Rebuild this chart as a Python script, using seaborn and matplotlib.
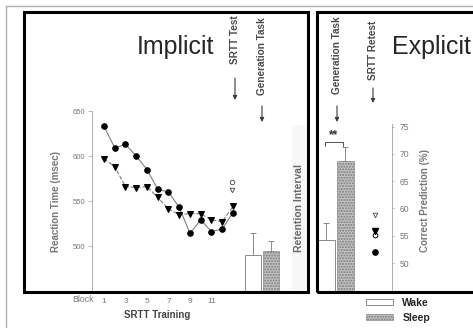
import matplotlib
matplotlib.use("Agg")
import matplotlib.pyplot as plt
import seaborn as sns
from matplotlib.patches import Rectangle
from matplotlib.lines import Line2D

W, H = 473, 328

# SRTT training blocks (13 = SRTT test after training)
blocks = list(range(1, 14))
rt_circles = [633, 609, 613, 600, 585, 563, 560, 543, 514, 529, 516, 519, 537]
rt_triangles = [597, 588, 566, 565, 566, 554, 541, 535, 536, 536, 529, 527, 544]
rt_open_circle = 571
rt_open_triangle = 562

# generation task bars (left panel, drawn on the RT scale)
conditions = ["Wake", "Sleep"]
gen_rt = [490, 494]
gen_rt_err = [24, 12]

# explicit panel
pred_pct = [54.2, 68.7]
pred_err = [3.1, 2.6]
retest_open_triangle = 58.8
retest_filled_triangle = 55.9
retest_open_circle = 55.2
retest_filled_circle = 52.0

block_ticks = [1, 3, 5, 7, 9, 11]
rt_ticks = [500, 550, 600, 650]
pct_ticks = [50, 55, 60, 65, 70, 75]

sns.set_style("white")
plt.rcParams['font.family'] = ['Liberation Sans', 'DejaVu Sans']

fig = plt.figure(figsize=(W / 100, H / 100), dpi=100)
fig.patch.set_facecolor('white')


def fx(x):
    return x / W


def fy(y):
    return 1 - y / H


def rect(x0, y0, x1, y1):
    return [fx(x0), fy(y1), (x1 - x0) / W, (y1 - y0) / H]


grey_txt = '#777777'
dark_txt = '#3a3a3a'
wake_style = dict(facecolor='white', edgecolor='#777777', linewidth=0.6)
sleep_style = dict(facecolor='#c4c4c4', edgecolor='#7a7a7a', linewidth=0.4, hatch='......')

# ---- left (implicit) panel ----
ax = fig.add_axes(rect(92, 12, 308, 292))
ax.set_facecolor('none')
ax.set_xlim(-0.116, 19.98)
ax.set_ylim(448.9, 760)

sns.lineplot(x=blocks, y=rt_circles, ax=ax, color='#808080', linewidth=0.8,
             marker='o', markersize=4.0, markerfacecolor='black',
             markeredgecolor='black')
sns.lineplot(x=blocks, y=rt_triangles, ax=ax, color='#808080', linewidth=0.8,
             linestyle='--', marker='v', markersize=4.0,
             markerfacecolor='black', markeredgecolor='black')
ax.plot([12.9], [rt_open_circle], marker='o', markersize=3.3, mfc='white',
        mec='#444444', mew=0.6, linestyle='none')
ax.plot([12.9], [rt_open_triangle], marker='v', markersize=3.3, mfc='white',
        mec='#444444', mew=0.6, linestyle='none')

bx = [14.9, 16.5]
ax.bar(bx[0], gen_rt[0], width=1.5, **wake_style)
ax.bar(bx[1], gen_rt[1], width=1.5, **sleep_style)
ax.errorbar(bx, gen_rt, yerr=[[0, 0], gen_rt_err], fmt='none',
            ecolor='#8a8a8a', elinewidth=0.7, capsize=2.2, capthick=0.7)

for side in ['top', 'right', 'bottom']:
    ax.spines[side].set_visible(False)
ax.spines['left'].set_color('#a0a0a0')
ax.spines['left'].set_linewidth(0.6)
ax.spines['left'].set_bounds(448.9, 650)
ax.set_yticks(rt_ticks)
ax.set_xticks(block_ticks)
ax.tick_params(axis='y', length=3, width=0.5, color='#a0a0a0', pad=2,
               labelsize=5.5, labelcolor=grey_txt, left=True)
ax.tick_params(axis='x', length=0, pad=4.5, labelsize=6, labelcolor=grey_txt)
ax.set_ylabel('Reaction Time (msec)', fontsize=7, fontweight='bold', color=grey_txt)
ax.yaxis.set_label_coords((61 - 92) / 216, (292 - 202) / 280)

# ---- right (explicit) panel ----
ax2 = fig.add_axes(rect(317, 12, 473, 292))
ax2.set_facecolor('none')
ax2.set_xlim(-0.484, 7.64)
ax2.set_ylim(44.69, 95.97)

wake_bar = ax2.bar(0, pred_pct[0], width=0.92, label=conditions[0], **wake_style)
sleep_bar = ax2.bar(1, pred_pct[1], width=0.92, label=conditions[1], **sleep_style)
ax2.errorbar([0, 1], pred_pct, yerr=[[0, 0], pred_err], fmt='none',
             ecolor='#8a8a8a', elinewidth=0.7, capsize=2.2, capthick=0.7)

mx = 2.54
ax2.plot([mx], [retest_open_triangle], marker='v', markersize=3.3, mfc='white',
         mec='#444444', mew=0.6, linestyle='none')
ax2.plot([mx], [retest_open_circle], marker='o', markersize=3.4, mfc='white',
         mec='black', mew=0.7, linestyle='none')
ax2.plot([mx], [retest_filled_triangle], marker='v', markersize=3.8, mfc='black',
         mec='black', linestyle='none')
ax2.plot([mx], [retest_filled_circle], marker='o', markersize=3.8, mfc='black',
         mec='black', linestyle='none')

# significance bracket
ax2.plot([-0.07, -0.07, 0.85, 0.85], [71.5, 72.1, 72.1, 71.5], color='#555555', lw=0.7)
ax2.text(0.4, 72.4, '**', ha='center', va='bottom', fontsize=8.5,
         fontweight='bold', color='#333333')

for side in ['top', 'left', 'bottom']:
    ax2.spines[side].set_visible(False)
ax2.spines['right'].set_position(('data', 3.42))
ax2.spines['right'].set_color('#a0a0a0')
ax2.spines['right'].set_linewidth(0.6)
ax2.spines['right'].set_bounds(44.69, 75.4)
ax2.yaxis.tick_right()
ax2.set_yticks(pct_ticks)
ax2.set_xticks([])
ax2.tick_params(axis='y', length=1.5, width=0.5, color='#a0a0a0', pad=4,
                labelsize=6.2, labelcolor=grey_txt, right=True)
ax2.yaxis.set_label_position('right')
ax2.set_ylabel('Correct Prediction (%)', fontsize=7, fontweight='bold', color=grey_txt)
ax2.yaxis.set_label_coords((420 - 317) / 156, (292 - 200) / 280)

# ---- panel frames and decorations ----
fig.add_artist(Rectangle((fx(24), fy(292)), (308 - 24) / W, 280 / H,
                         transform=fig.transFigure, fill=False, lw=2.2,
                         ec='black', zorder=10))
fig.add_artist(Rectangle((fx(317), fy(292)), (478 - 317) / W, 280 / H,
                         transform=fig.transFigure, fill=False, lw=2.2,
                         ec='black', zorder=10))
fig.add_artist(Line2D([fx(6), 1], [fy(6), fy(6)], color='#b0b0b0', lw=1.0))
fig.add_artist(Line2D([fx(6), fx(6)], [fy(6), 0], color='#b0b0b0', lw=1.0))
fig.add_artist(Rectangle((fx(292), fy(290)), 15 / W, 165 / H,
                         transform=fig.transFigure, facecolor='#f7f7f7',
                         edgecolor='none', zorder=-1))

fig.text(fx(137), fy(54), 'Implicit', fontsize=18, ha='left', va='baseline')
fig.text(fx(392), fy(54), 'Explicit', fontsize=18, ha='left', va='baseline')

labels_top = [('SRTT Test', 235, 40, 78, 100),
              ('Generation Task', 262, 56, 106, 122),
              ('Generation Task', 337, 55, 106, 122),
              ('SRTT Retest', 373, 50, 88, 103)]
for txt, x, yc, a0, a1 in labels_top:
    fig.text(fx(x), fy(yc), txt, rotation=90, ha='center', va='center',
             fontsize=7.2, fontweight='bold', color='#4a4a4a')
    ax.annotate('', xy=(fx(x), fy(a1)), xytext=(fx(x), fy(a0)),
                xycoords='figure fraction', textcoords='figure fraction',
                arrowprops=dict(arrowstyle='-|>', lw=0.8, color=dark_txt,
                                mutation_scale=6, shrinkA=0, shrinkB=0))

fig.text(fx(299), fy(208), 'Retention Interval', rotation=90, ha='center',
         va='center', fontsize=7.5, fontweight='bold', color='#6a6a6a')
fig.text(fx(83), fy(300), 'Block', ha='center', va='center', fontsize=6.3,
         color=grey_txt)
fig.text(fx(157), fy(315), 'SRTT Training', ha='center', va='center',
         fontsize=7, fontweight='bold', color='#444444')

fig.legend(handles=[wake_bar, sleep_bar], labels=conditions, loc='upper left',
           bbox_to_anchor=(fx(366), fy(298)), frameon=False,
           prop={'weight': 'bold', 'size': 7.5}, handlelength=2.6,
           handleheight=0.55, handletextpad=0.9, labelspacing=0.45,
           borderpad=0, borderaxespad=0)

fig.savefig('out.png', dpi=100, facecolor='white')
